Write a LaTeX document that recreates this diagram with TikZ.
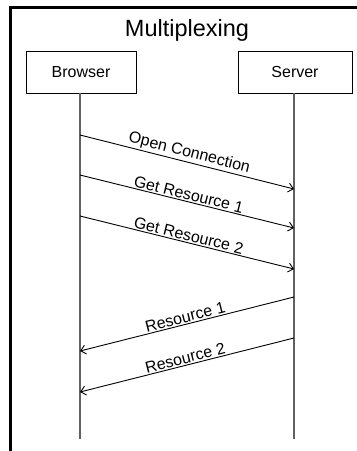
\documentclass[tikz,border=0pt]{standalone}
\usepackage{fontspec}
\setmainfont{Liberation Sans}
\usetikzlibrary{arrows.meta}
\begin{document}
\begin{tikzpicture}[x=1pt,y=-1pt,
  actor/.style={draw=black, line width=0.9pt, minimum height=42pt, inner sep=0pt,
    font=\fontsize{16}{19}\selectfont},
  lifeline/.style={draw=black!62, line width=1.5pt},
  msg/.style={draw=black, line width=0.9pt, -{Straight Barb[length=5pt,width=9pt]}},
  lbl/.style={midway, sloped, above, inner sep=1.2pt, font=\fontsize{16}{19}\selectfont}]
  \useasboundingbox (0,0) rectangle (357,451);
  \clip (0,0) rectangle (357,451);
  \fill[white] (0,0) rectangle (357,451);
  % outer frame
  \draw[line width=2.6pt] (10.5,7.5) rectangle (420,520);
  % title
  \node (title) at (187,30) {\fontsize{23.5}{28}\selectfont Multiplexing};
  % participants
  \node[actor, minimum width=110pt] (browser) at (81,72) {Browser};
  \node[actor, minimum width=114pt] (server) at (295,72) {Server};
  % lifelines
  \coordinate (bend) at (80,439);
  \coordinate (send) at (294,439);
  \draw[lifeline] (browser.south -| bend) -- (bend);
  \draw[lifeline] (server.south -| send) -- (send);
  % message endpoints
  \coordinate (b1) at (80,135);  \coordinate (s1) at (294,189);
  \coordinate (b2) at (80,175);  \coordinate (s2) at (294,228);
  \coordinate (b3) at (80,216);  \coordinate (s3) at (294,269);
  \coordinate (s4) at (294,297); \coordinate (b4) at (80,351);
  \coordinate (s5) at (294,338); \coordinate (b5) at (80,392);
  % requests
  \draw[msg] (b1) -- node[lbl] {Open Connection} (s1);
  \draw[msg] (b2) -- node[lbl] {Get Resource 1} (s2);
  \draw[msg] (b3) -- node[lbl] {Get Resource 2} (s3);
  % responses
  \draw[msg] (s4) -- node[lbl] {Resource 1} (b4);
  \draw[msg] (s5) -- node[lbl] {Resource 2} (b5);
\end{tikzpicture}
\end{document}
